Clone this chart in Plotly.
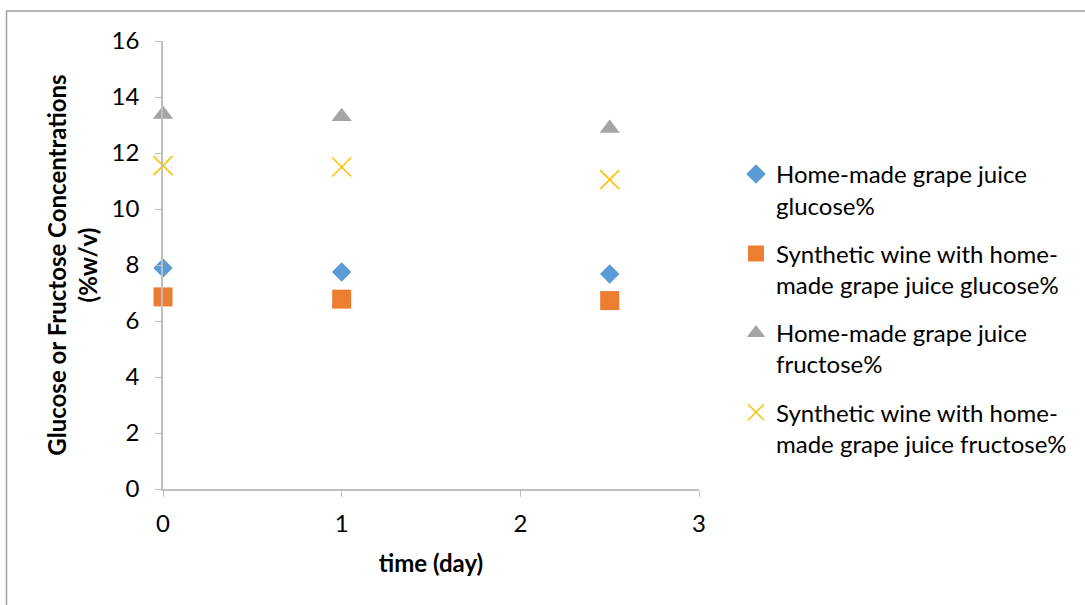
import plotly.graph_objects as go

days = [0, 1, 2.5]
hm_glucose = [7.89, 7.75, 7.68]
syn_glucose = [6.86, 6.78, 6.73]
hm_fructose = [13.38, 13.3, 12.88]
syn_fructose = [11.55, 11.5, 11.05]

names = [
    "Home-made grape juice<br>glucose%",
    "Synthetic wine with home-<br>made grape juice glucose%",
    "Home-made grape juice<br>fructose%",
    "Synthetic wine with home-<br>made grape juice fructose%",
]
series = [hm_glucose, syn_glucose, hm_fructose, syn_fructose]
colors = ["#5B9BD5", "#ED7D31", "#A5A5A5", "#FFC000"]
symbols = ["diamond", "square", "triangle-up", "x-thin-open"]
sizes = [15, 19, 17.5, 19]

FONT = "Lato, Open Sans, sans-serif"
FS = 24

fig = go.Figure()
for i, (nm, ys) in enumerate(zip(names, series)):
    marker = dict(symbol=symbols[i], size=sizes[i], color=colors[i])
    if symbols[i] == "x-thin-open":
        marker["line"] = dict(color=colors[i], width=1.5)
    else:
        marker["line"] = dict(width=0)
    fig.add_trace(go.Scatter(x=days, y=ys, mode="markers", name=nm,
                             marker=marker, legendgroup=str(i), cliponaxis=False))

L, R, T, B = 163, 699, 41, 489
W, H = 1085, 605
pw, ph = R - L, B - T

fig.update_layout(
    width=W, height=H,
    margin=dict(l=L, r=W - R, t=T, b=H - B, pad=0),
    paper_bgcolor="white", plot_bgcolor="white",
    font=dict(family=FONT, size=FS, color="#000000"),
    showlegend=True,
    legend=dict(x=(736 - L) / pw, y=(B - 152) / ph, xanchor="left", yanchor="top",
                font=dict(size=FS, family=FONT), tracegroupgap=14, valign="top",
                bgcolor="rgba(0,0,0,0)"),
    xaxis=dict(range=[0, 3], dtick=1, tick0=0, showgrid=False, zeroline=False,
               showline=True, linecolor="#BFBFBF", linewidth=1.5,
               ticks="outside", ticklen=6, tickcolor="#BFBFBF",
               ticklabelstandoff=6,
               tickfont=dict(size=FS, family=FONT),
               title=dict(text="<b>time (day)</b>", font=dict(size=FS, family=FONT), standoff=20)),
    yaxis=dict(range=[0, 16], dtick=2, tick0=0, showgrid=False, zeroline=False,
               showline=True, linecolor="#BFBFBF", linewidth=1.5,
               ticks="outside", ticklen=6, tickcolor="#BFBFBF",
               ticklabelstandoff=11,
               tickfont=dict(size=FS, family=FONT),
               title=dict(text="<b>Glucose or Fructose Concentrations<br>(%w/v)</b>",
                          font=dict(size=FS, family=FONT), standoff=7)),
    shapes=[dict(type="rect", xref="paper", yref="paper",
                 x0=(6.5 - L) / pw, x1=(1095 - L) / pw,
                 y0=(B - 615) / ph, y1=(B - 11) / ph,
                 line=dict(color="#A0A0A0", width=1.5), fillcolor="rgba(0,0,0,0)",
                 layer="below")],
)

fig.write_html("out.html")
